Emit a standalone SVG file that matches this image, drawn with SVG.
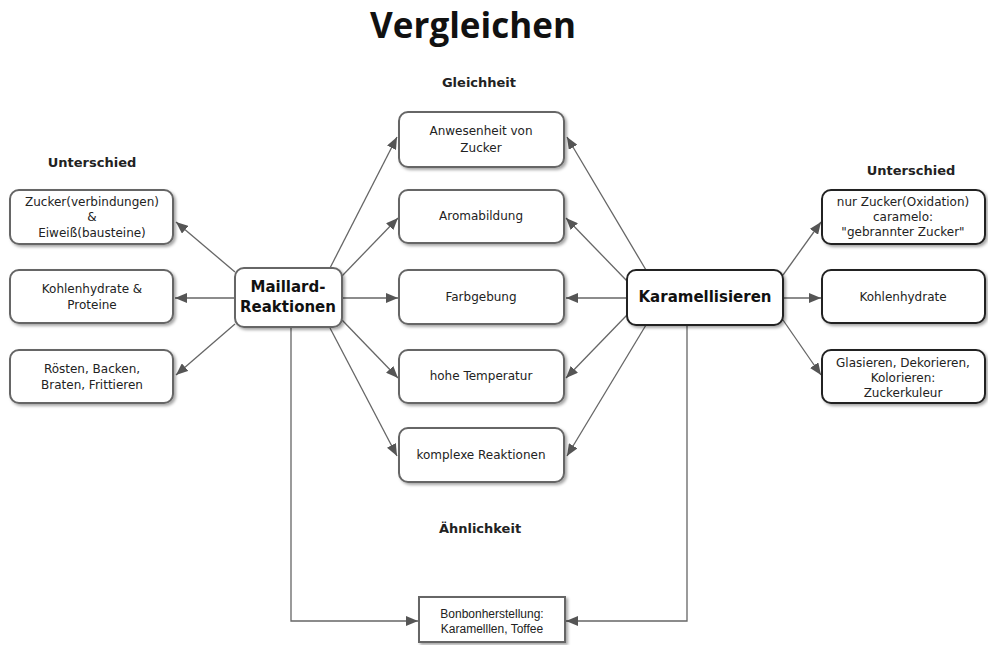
<svg xmlns="http://www.w3.org/2000/svg" width="988" height="645" viewBox="0 0 988 645">
<style>
.t{font-family:"DejaVu Sans",Verdana,sans-serif;font-size:12px;fill:#222;text-anchor:middle}
.b{font-family:"DejaVu Sans",Verdana,sans-serif;font-size:15px;font-weight:bold;fill:#111;text-anchor:middle}
.h{font-family:"DejaVu Sans",Verdana,sans-serif;font-size:13px;font-weight:bold;fill:#222;text-anchor:middle}
.box{fill:#fff;stroke:#666;stroke-width:2;filter:url(#sh)}
.dark{stroke:#222}
.c{stroke:#666;stroke-width:1.3;fill:none;marker-end:url(#ar)}
</style>
<defs>
<filter id="sh" x="-10%" y="-10%" width="130%" height="140%">
<feDropShadow dx="2" dy="2" stdDeviation="1.5" flood-color="#000" flood-opacity="0.35"/>
</filter>
<marker id="ar" viewBox="0 0 12 10" refX="12" refY="5" markerWidth="12" markerHeight="10" markerUnits="userSpaceOnUse" orient="auto">
<path d="M0,0 L12,5 L0,10 z" fill="#555"/>
</marker>
</defs>
<rect width="988" height="645" fill="#fff"/>
<text x="473" y="38" style="font-family:'Open Sans',sans-serif;font-size:35px;font-weight:bold;fill:#111;text-anchor:middle">Vergleichen</text>
<text class="h" x="92" y="167">Unterschied</text>
<text class="h" x="479" y="87">Gleichheit</text>
<text class="h" x="911" y="175">Unterschied</text>
<text class="h" x="480" y="533">Ähnlichkeit</text>
<g id="connectors">
<line class="c" x1="235" y1="272" x2="176" y2="222"/>
<line class="c" x1="235" y1="298" x2="175" y2="298"/>
<line class="c" x1="235" y1="324" x2="176" y2="375"/>
<line class="c" x1="330" y1="268" x2="397" y2="137"/>
<line class="c" x1="342" y1="276" x2="398" y2="218"/>
<line class="c" x1="342" y1="298" x2="398" y2="298"/>
<line class="c" x1="342" y1="320" x2="398" y2="378"/>
<line class="c" x1="330" y1="328" x2="397" y2="456"/>
<line class="c" x1="646" y1="270" x2="567" y2="137"/>
<line class="c" x1="627" y1="281" x2="566" y2="218"/>
<line class="c" x1="627" y1="298" x2="566" y2="298"/>
<line class="c" x1="627" y1="315" x2="566" y2="378"/>
<line class="c" x1="646" y1="325" x2="567" y2="456"/>
<line class="c" x1="783" y1="275" x2="821" y2="222"/>
<line class="c" x1="783" y1="298" x2="821" y2="298"/>
<line class="c" x1="783" y1="320" x2="821" y2="375"/>
<polyline class="c" points="291,327 291,621 418,621"/>
<polyline class="c" points="687,325 687,621 566,621"/>
</g>
<g id="n-zucker-eiweiss"><rect class="box" x="10" y="190" width="163" height="54" rx="9"/>
<text class="t" x="92" y="206">Zucker(verbindungen)</text><text class="t" x="92" y="221">&amp;</text><text class="t" x="92" y="237">Eiweiß(bausteine)</text></g>
<g id="n-kh-proteine"><rect class="box" x="10" y="270" width="163" height="53" rx="9"/>
<text class="t" x="92" y="293">Kohlenhydrate &amp;</text><text class="t" x="92" y="309">Proteine</text></g>
<g id="n-roesten"><rect class="box" x="10" y="350" width="163" height="53" rx="9"/>
<text class="t" x="92" y="373">Rösten, Backen,</text><text class="t" x="92" y="389">Braten, Frittieren</text></g>
<g id="n-maillard"><rect class="box" x="235" y="268" width="107" height="59" rx="9"/>
<text class="b" x="288" y="292">Maillard-</text><text class="b" x="288" y="312">Reaktionen</text></g>
<g id="n-anwesenheit"><rect class="box" x="399" y="112" width="165" height="55" rx="9"/>
<text class="t" x="481" y="135">Anwesenheit von</text><text class="t" x="481" y="152">Zucker</text></g>
<g id="n-aroma"><rect class="box" x="399" y="190" width="165" height="53" rx="9"/>
<text class="t" x="481" y="220">Aromabildung</text></g>
<g id="n-farb"><rect class="box" x="399" y="270" width="165" height="54" rx="9"/>
<text class="t" x="481" y="301">Farbgebung</text></g>
<g id="n-temp"><rect class="box" x="399" y="350" width="165" height="53" rx="9"/>
<text class="t" x="481" y="380">hohe Temperatur</text></g>
<g id="n-komplex"><rect class="box" x="399" y="428" width="165" height="54" rx="9"/>
<text class="t" x="481" y="459">komplexe Reaktionen</text></g>
<g id="n-karamell"><rect class="box dark" x="627" y="270" width="156" height="55" rx="9"/>
<text class="b" x="705" y="302">Karamellisieren</text></g>
<g id="n-nur-zucker"><rect class="box dark" x="822" y="190" width="163" height="54" rx="9"/>
<text class="t" x="903" y="206">nur Zucker(Oxidation)</text><text class="t" x="903" y="221">caramelo:</text><text class="t" x="903" y="236">"gebrannter Zucker"</text></g>
<g id="n-kh"><rect class="box dark" x="822" y="270" width="163" height="53" rx="9"/>
<text class="t" x="903" y="301">Kohlenhydrate</text></g>
<g id="n-glasieren"><rect class="box dark" x="822" y="350" width="163" height="53" rx="9"/>
<text class="t" x="903" y="367">Glasieren, Dekorieren,</text><text class="t" x="903" y="382">Kolorieren:</text><text class="t" x="903" y="397">Zuckerkuleur</text></g>
<g id="n-bonbon"><rect class="box" x="419" y="597" width="146" height="45" rx="0"/>
<text x="492" y="618" style="font-family:'Liberation Sans',Arial,sans-serif;font-size:12px;fill:#222;text-anchor:middle">Bonbonherstellung:</text>
<text x="492" y="633" style="font-family:'Liberation Sans',Arial,sans-serif;font-size:12px;fill:#222;text-anchor:middle">Karamelllen, Toffee</text></g>
</svg>
